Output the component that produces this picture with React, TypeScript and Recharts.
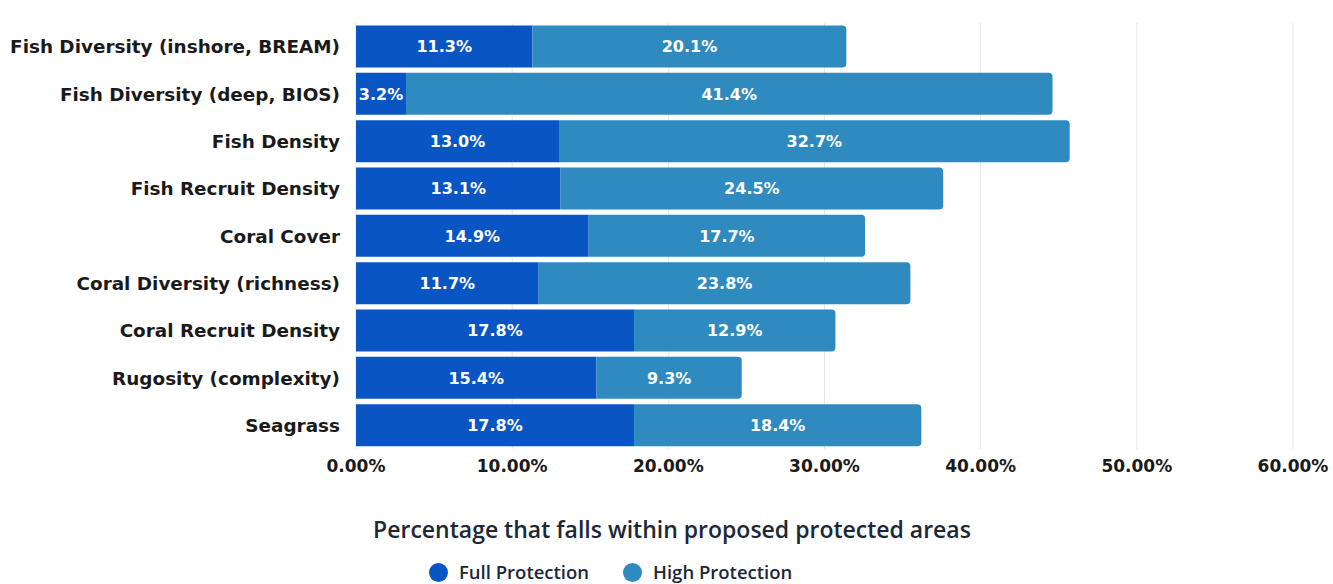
import React from 'react';
import { BarChart, Bar, XAxis, YAxis, CartesianGrid, LabelList, Legend } from 'recharts';

const categories = [
  'Fish Diversity (inshore, BREAM)',
  'Fish Diversity (deep, BIOS)',
  'Fish Density',
  'Fish Recruit Density',
  'Coral Cover',
  'Coral Diversity (richness)',
  'Coral Recruit Density',
  'Rugosity (complexity)',
  'Seagrass',
];
const fullProtection = [11.3, 3.2, 13.0, 13.1, 14.9, 11.7, 17.8, 15.4, 17.8];
const highProtection = [20.1, 41.4, 32.7, 24.5, 17.7, 23.8, 12.9, 9.3, 18.4];
const xTicks = [0, 10, 20, 30, 40, 50, 60];
const seriesNames = ['Full Protection', 'High Protection'];
const titleText = 'Percentage that falls within proposed protected areas';

const data = categories.map((c, i) => ({
  name: c,
  full: fullProtection[i],
  high: highProtection[i],
}));

const DARK = '#0a55c4';
const LIGHT = '#2f8bbf';
const LABEL_FONT = '"DejaVu Sans", sans-serif';
const TITLE_FONT = '"Open Sans", Roboto, sans-serif';

const fmt = (v: any) => `${Number(v).toFixed(1)}%`;

const LegendContent = () => (
  <div style={{ width: 1333, fontFamily: TITLE_FONT, color: '#1b2838' }}>
    <div style={{ textAlign: 'center', paddingLeft: 11, fontSize: 23, fontWeight: 600, lineHeight: '28px' }}>
      {titleText}
    </div>
    <div style={{ display: 'flex', paddingLeft: 429, marginTop: 18, alignItems: 'center', fontSize: 18.5, fontWeight: 600, lineHeight: '22px' }}>
      <span style={{ display: 'inline-block', width: 19, height: 19, borderRadius: 10, background: DARK, marginRight: 11 }} />
      <span style={{ marginRight: 34 }}>{seriesNames[0]}</span>
      <span style={{ display: 'inline-block', width: 19, height: 19, borderRadius: 10, background: LIGHT, marginRight: 11 }} />
      <span>{seriesNames[1]}</span>
    </div>
  </div>
);

export default function App() {
  return (
    <div style={{ position: 'absolute', left: 0, top: 0, width: 1333, height: 584, background: '#fff' }}>
      <BarChart
        width={1333}
        height={584}
        data={data}
        layout="vertical"
        margin={{ top: 23, right: 40, bottom: 0, left: 0 }}
        barCategoryGap={2.5}
      >
        <CartesianGrid horizontal={false} vertical stroke="#e6e6e6" />
        <XAxis
          type="number"
          domain={[0, 60]}
          ticks={xTicks}
          tickFormatter={(v) => `${Number(v).toFixed(2)}%`}
          axisLine={false}
          tickLine={false}
          tickSize={0}
          tickMargin={11}
          height={135}
          tick={{ fill: '#1a1a1a', fontSize: 17, fontWeight: 700, fontFamily: LABEL_FONT }}
          interval={0}
        />
        <YAxis
          type="category"
          dataKey="name"
          width={356}
          axisLine={false}
          tickLine={false}
          tickSize={0}
          tickMargin={16}
          interval={0}
          tick={{ fill: '#1a1a1a', fontSize: 18.4, fontWeight: 700, fontFamily: LABEL_FONT }}
        />
        <Bar dataKey="full" stackId="a" fill={DARK} name={seriesNames[0]} isAnimationActive={false}>
          <LabelList dataKey="full" position="center" formatter={fmt} fill="#ffffff" style={{ fontSize: 16, fontWeight: 700, fontFamily: LABEL_FONT }} />
        </Bar>
        <Bar dataKey="high" stackId="a" fill={LIGHT} name={seriesNames[1]} radius={[0, 4, 4, 0]} isAnimationActive={false}>
          <LabelList dataKey="high" position="center" formatter={fmt} fill="#ffffff" style={{ fontSize: 16, fontWeight: 700, fontFamily: LABEL_FONT }} />
        </Bar>
        <Legend
          layout="horizontal"
          verticalAlign="middle"
          align="center"
          wrapperStyle={{ top: 515, left: 0, width: 1333 }}
          content={<LegendContent />}
        />
      </BarChart>
    </div>
  );
}
